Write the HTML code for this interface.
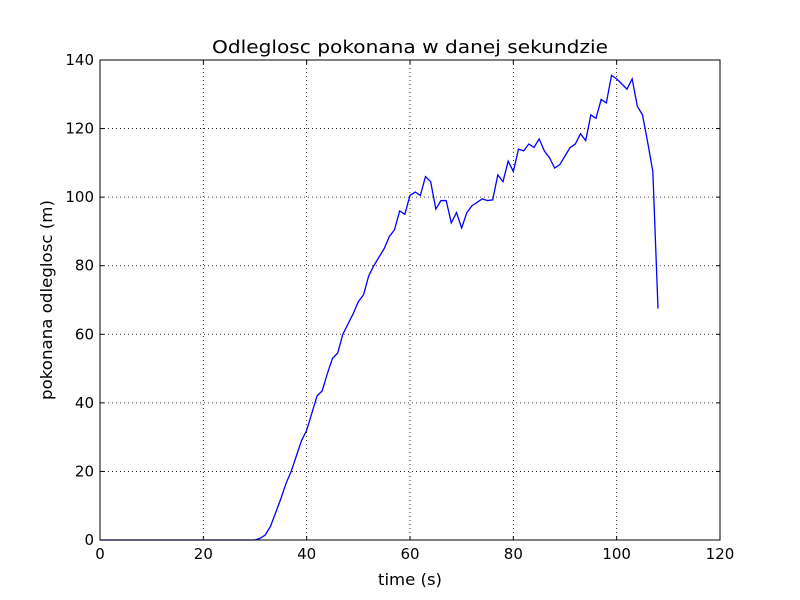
<!DOCTYPE html>
<html><head><meta charset="utf-8"><style>
body{margin:0;background:#fff;}
svg{display:block;font-family:"DejaVu Sans","Liberation Sans",sans-serif;}
</style></head><body>
<svg id="chart" width="800" height="600">
<rect x="0" y="0" width="800" height="600" fill="#fff"/>
<text x="410" y="53" font-size="18" text-anchor="middle" textLength="396" lengthAdjust="spacingAndGlyphs">Odleglosc pokonana w danej sekundzie</text>
<text x="410" y="585" font-size="16" text-anchor="middle" textLength="64" lengthAdjust="spacingAndGlyphs">time (s)</text>
<text x="0" y="0" font-size="16" text-anchor="middle" textLength="200" lengthAdjust="spacingAndGlyphs" transform="translate(52,300) rotate(-90)">pokonana odleglosc (m)</text>
<g id="grid"></g>
<g id="ticks"></g>
<path id="line" fill="none" stroke="#0000ff" stroke-width="1.3"/>
<rect x="100" y="60" width="620" height="480" fill="none" stroke="#000" stroke-width="1"/>
</svg>
<script>
const xTicks=[0,20,40,60,80,100,120];
const yTicks=[0,20,40,60,80,100,120,140];
const values=[0,0,0,0,0,0,0,0,0,0,0,0,0,0,0,0,0,0,0,0,0,0,0,0,0,0,0,0,0,0,0,
0.5,1.5,4,8,12,16.5,20,24.5,29,32,37,42,43.5,48.5,53,54.5,60,63,66,69.5,71.5,77,80,82.5,85,88.5,90.5,96,95,
100.5,101.5,100.5,106,104.5,96.5,99,99,92.5,95.5,91,95.5,97.5,98.5,99.5,99,99.2,106.5,104.5,110.5,107.5,
114,113.5,115.5,114.5,117,113.5,111.5,108.5,109.5,112,114.5,115.5,118.5,116.5,124,123,128.5,127.5,
135.5,134.5,133,131.5,134.5,126.5,124,116,107.5,67.5];
const X0=100,X1=720,Y0=540,Y1=60;
const xs=v=>X0+(v-0)/120*(X1-X0);
const ys=v=>Y0-(v-0)/140*(Y0-Y1);
const NS="http://www.w3.org/2000/svg";
const grid=document.getElementById('grid'),ticks=document.getElementById('ticks');
function mk(tag,attrs,parent){const e=document.createElementNS(NS,tag);for(const k in attrs)e.setAttribute(k,attrs[k]);parent.appendChild(e);return e;}
xTicks.forEach(t=>{
  const x=xs(t);
  if(t>0&&t<120){const g=mk('line',{x1:x,x2:x,y1:Y1,y2:Y0,stroke:'#000','stroke-width':0.8,'stroke-dasharray':'1,3'},grid);
  
  }
  mk('line',{x1:x,x2:x,y1:Y0,y2:Y0-4,stroke:'#000'},ticks);
  mk('line',{x1:x,x2:x,y1:Y1,y2:Y1+4,stroke:'#000'},ticks);
  const l=mk('text',{x:x,y:559,'font-size':15,'text-anchor':'middle'},ticks);
  l.textContent=t;
  
  
});
yTicks.forEach(t=>{
  const y=ys(t);
  if(t>0&&t<140){const g=mk('line',{x1:X0,x2:X1,y1:y,y2:y,stroke:'#000','stroke-width':0.8,'stroke-dasharray':'1,3'},grid);
  
  }
  mk('line',{x1:X0,x2:X0+4,y1:y,y2:y,stroke:'#000'},ticks);
  mk('line',{x1:X1,x2:X1-4,y1:y,y2:y,stroke:'#000'},ticks);
  const l=mk('text',{x:94,y:y+5,'font-size':15,'text-anchor':'end'},ticks);
  l.textContent=t;
  
  
});
document.getElementById('line').setAttribute('d',values.map((v,i)=>(i?'L':'M')+xs(i).toFixed(2)+','+ys(v).toFixed(2)).join(''));
</script>
</body></html>
